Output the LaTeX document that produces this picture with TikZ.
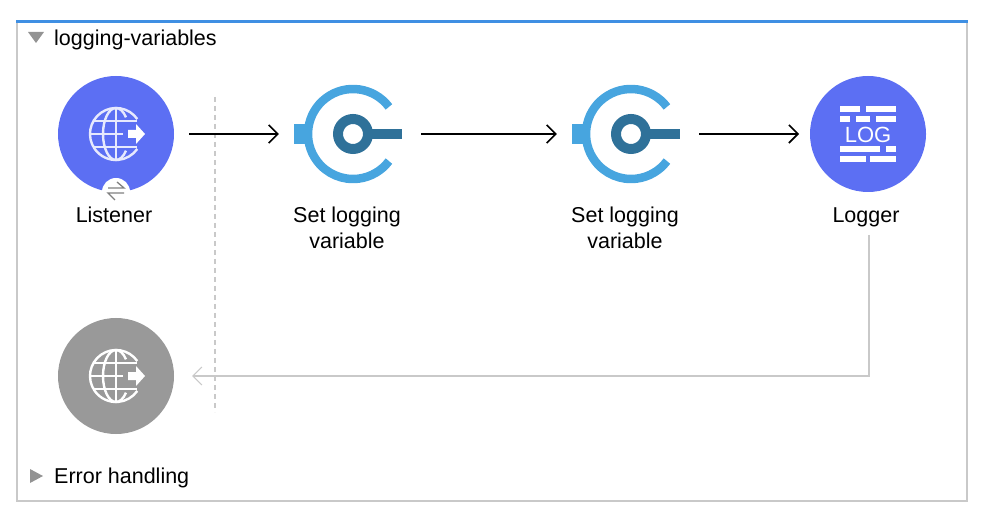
\documentclass[tikz,border=0pt]{standalone}
\usepackage{fontspec}
\setmainfont{Liberation Sans}
\usetikzlibrary{arrows.meta}
\definecolor{flowblue}{HTML}{5C6FF3}
\definecolor{topblue}{HTML}{3F8FE3}
\definecolor{ringblue}{HTML}{47A5DF}
\definecolor{keyblue}{HTML}{2F7199}
\definecolor{framegray}{HTML}{C9C9C9}
\definecolor{errgray}{HTML}{999999}
\begin{document}
\begin{tikzpicture}[x=1pt,y=-1pt]
\tikzset{
  round/.style={circle, minimum size=116pt, inner sep=0pt},
  hit/.style={minimum width=142pt, minimum height=20pt, inner sep=0pt},
  lbl/.style={font=\fontsize{21.5}{26}\selectfont, align=center, inner sep=0pt, text height=16pt, text depth=5pt},
  tri/.style={fill=gray!85, draw=none},
  flow/.style={line width=1.6pt, -{Straight Barb[length=9pt,width=18pt,line width=1.6pt]}},
  back/.style={line width=1.2pt, framegray, -{Straight Barb[length=9pt,width=18pt,line width=1.2pt]}},
  globe/.pic={
    \begin{scope}[pic actions, line width=2.4pt, fill=none]
    \draw (35:26pt) arc[start angle=35, end angle=325, radius=26pt];
    \draw (90:26pt) arc[start angle=90, end angle=270, x radius=13pt, y radius=26pt];
    \draw (90:26pt) arc[start angle=90, end angle=40, x radius=13pt, y radius=26pt];
    \draw (-90:26pt) arc[start angle=-90, end angle=-40, x radius=13pt, y radius=26pt];
    \draw (0,-26) -- (0,26);
    \draw (-26,0) -- (7,0);
    \draw (-22,-13) -- (21,-13);
    \draw (-22,13) -- (21,13);
    \end{scope}
    \fill[white] (12,-4) -- (20,-4) -- (20,-10) -- (29,0) -- (20,10) -- (20,4) -- (12,4) -- cycle;
  },
  setvar/.pic={
    \draw[ringblue, line width=8.5pt] (37:45pt) arc[start angle=37, end angle=323, radius=45pt];
    \fill[ringblue] (-59,-10) rectangle (-46,10);
    \draw[keyblue, line width=10pt] (0,0) circle (15pt);
    \fill[keyblue] (17,-5) rectangle (49,5);
  },
}
% frame
\useasboundingbox (0,0) rectangle (998,518);
\draw[framegray, line width=2pt] (17,22) rectangle (967,501);
\draw[topblue, line width=3.5pt] (16,21.5) -- (968,21.5);
\fill[tri] (28,32) -- (44,32) -- (36,43) -- cycle;
\fill[tri] (30,469) -- (43,476) -- (30,483) -- cycle;
\node[lbl, anchor=west] (title) at (54,40) {logging-variables};
\node[lbl, anchor=west] (errors) at (54,478) {Error handling};
% nodes
\node[round, fill=flowblue, outer sep=15pt] (listener) at (116,134) {};
\node[hit] (setA) at (350,134) {};
\node[hit] (setB) at (628,134) {};
\node[round, fill=flowblue, outer sep=11pt] (logger) at (868,134) {};
\node[round, fill=errgray, outer sep=18pt] (source) at (116,376) {};
\pic[draw=white!85!flowblue] at (116,134) {globe};
\pic[draw=white] at (116,376) {globe};
\pic at (353,134) {setvar};
\pic at (631,134) {setvar};
% badge
\fill[white] (116,192) circle (14pt);
\draw[gray, line width=1.3pt] (108,188) -- (124,188) -- (117,182);
\draw[gray, line width=1.3pt] (124,193) -- (108,193) -- (115,200);
% log icon
\foreach \xa/\ya/\xb in {840/106/860, 866/106/896, 840/116/850, 856/116/870, 876/116/896,
                         840/146/880, 886/146/896, 840/156/866, 870/156/896}
  \fill[white] (\xa,\ya) rectangle (\xb,\ya+6);
\node[text=white, inner sep=0pt, font=\fontsize{22}{22}\selectfont] (logtext) at (868,134.5) {LOG};
% labels
\node[lbl] (lblA) at (114,217) {Listener};
\node[lbl] (lblB) at (347,217) {Set logging};
\node[lbl] (lblC) at (347,243) {variable};
\node[lbl] (lblD) at (625,217) {Set logging};
\node[lbl] (lblE) at (625,243) {variable};
\node[lbl] (lblF) at (866,217) {Logger};
% connectors
\coordinate (dashtop) at (215,97);
\coordinate (dashend) at (215,412);
\coordinate (turn) at (869,235);
\draw[framegray, line width=1.5pt, dashed, dash pattern=on 5pt off 4pt] (dashtop) -- (dashend);
\draw[flow] (listener.east) -- (setA.west);
\draw[flow] (setA.east) -- (setB.west);
\draw[flow] (setB.east) -- (logger.west);
\draw[back] (turn) |- (source.east);
\end{tikzpicture}
\end{document}
